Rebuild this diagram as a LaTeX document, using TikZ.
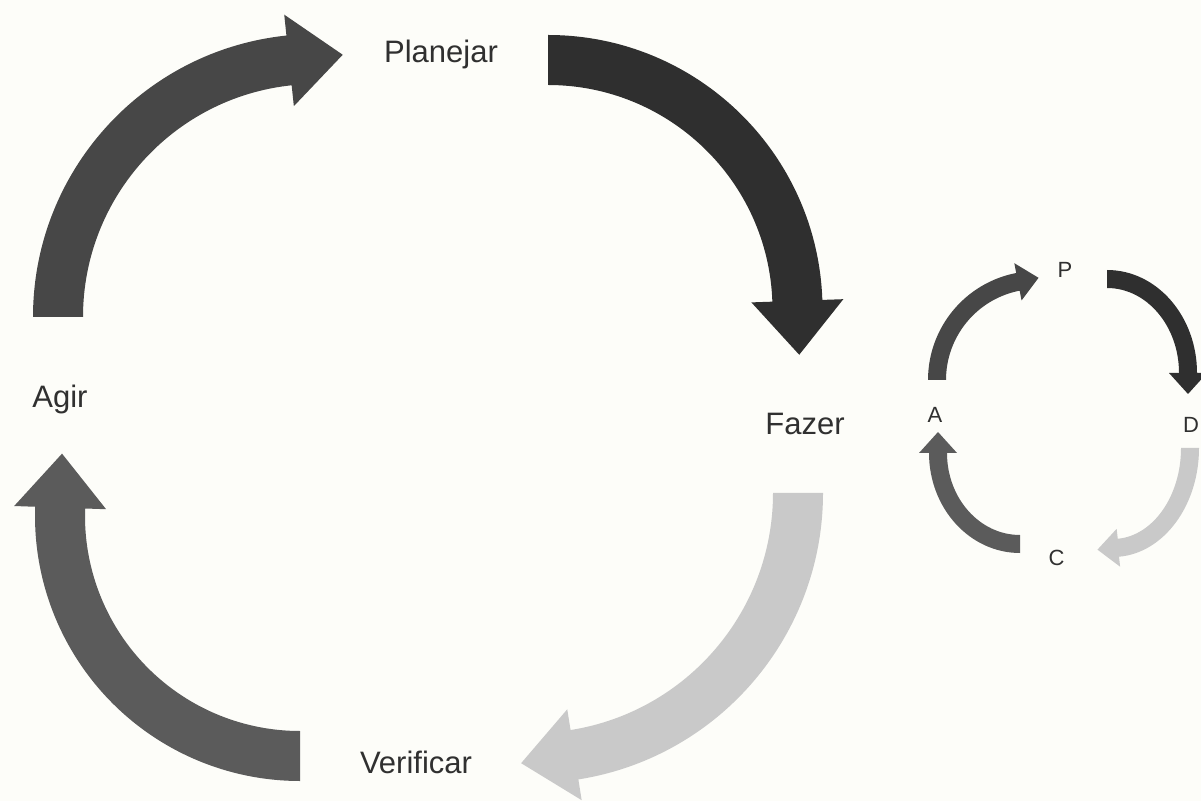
\documentclass[tikz,border=0pt]{standalone}
\usepackage{fontspec}
\setmainfont{Liberation Sans}

\definecolor{paper}{HTML}{FDFDF9}
\definecolor{inkAct}{HTML}{474747}
\definecolor{inkPlan}{HTML}{2F2F2F}
\definecolor{inkDo}{HTML}{C9C9C9}
\definecolor{inkCheck}{HTML}{5B5B5B}
\definecolor{labelink}{HTML}{303030}

% Thick clockwise arc with a triangular head.
% #1,#2 centre; #3,#4 radii; #5 start angle; #6 angle where the head begins; #7 fill colour.
% Band half-width, head half-width and head length come from \raBand, \raHead, \raLen.
\newcommand\ringarrow[7]{%
  \pgfmathsetmacro\raOrx{#3+\raBand}%
  \pgfmathsetmacro\raOry{#4+\raBand}%
  \pgfmathsetmacro\raIrx{#3-\raBand}%
  \pgfmathsetmacro\raIry{#4-\raBand}%
  \pgfmathsetmacro\raOx{#1+\raOrx*cos(#5)}%
  \pgfmathsetmacro\raOy{#2+\raOry*sin(#5)}%
  \pgfmathsetmacro\raIx{#1+\raIrx*cos(#6)}%
  \pgfmathsetmacro\raIy{#2+\raIry*sin(#6)}%
  \pgfmathsetmacro\raBx{#1+#3*cos(#6)}%
  \pgfmathsetmacro\raBy{#2+#4*sin(#6)}%
  \pgfmathsetmacro\raTx{#3*sin(#6)}%
  \pgfmathsetmacro\raTy{-#4*cos(#6)}%
  \pgfmathsetmacro\raTn{veclen(\raTx,\raTy)}%
  \pgfmathsetmacro\raNx{#4*cos(#6)}%
  \pgfmathsetmacro\raNy{#3*sin(#6)}%
  \pgfmathsetmacro\raNn{veclen(\raNx,\raNy)}%
  \fill[#7] (\raOx,\raOy)
      arc[start angle=#5, end angle=#6, x radius=\raOrx, y radius=\raOry]
    -- ({\raBx+\raHead*\raNx/\raNn},{\raBy+\raHead*\raNy/\raNn})
    -- ({\raBx+\raLen*\raTx/\raTn},{\raBy+\raLen*\raTy/\raTn})
    -- ({\raBx-\raHead*\raNx/\raNn},{\raBy-\raHead*\raNy/\raNn})
    -- (\raIx,\raIy)
      arc[start angle=#6, end angle=#5, x radius=\raIrx, y radius=\raIry]
    -- cycle;
}

\tikzset{
  biglabel/.style={font=\fontsize{31}{31}\selectfont, text=labelink, inner sep=0pt, anchor=base},
  smalllabel/.style={font=\fontsize{22}{22}\selectfont, text=labelink, inner sep=0pt, anchor=base},
}

\begin{document}
\begin{tikzpicture}[x=1pt,y=1pt]
  \useasboundingbox (0,0) rectangle (1201,801);
  \fill[paper] (0,0) rectangle (1201,801);
  \clip (0,0) rectangle (1201,801);

  % large cycle
  \def\raBand{25}\def\raHead{46}\def\raLen{54}
  \ringarrow{316}{484}{258}{258}{180}{96}{inkAct}
  \ringarrow{548}{491.5}{249.5}{249.5}{90}{2}{inkPlan}
  \ringarrow{533}{308}{265}{265}{0}{-81}{inkDo}
  \ringarrow{300}{285}{240}{240}{270}{178}{inkCheck}

  \node[biglabel] (planejar) at (441,738) {Planejar};
  \node[biglabel] (fazer) at (805,366) {Fazer};
  \node[biglabel] (verificar) at (416,28) {Verificar};
  \node[biglabel] (agir) at (60,393) {Agir};

  % small cycle
  \def\raBand{9}\def\raHead{19}\def\raLen{21}
  \ringarrow{1037}{421}{100}{100}{180}{101}{inkAct}
  \ringarrow{1107}{428}{81}{94}{90}{0}{inkPlan}
  \ringarrow{1113}{353}{77}{100}{0}{-86}{inkDo}
  \ringarrow{1020}{348}{82}{91}{270}{180}{inkCheck}

  \node[smalllabel] (p) at (1065,523) {P};
  \node[smalllabel] (d) at (1191,368) {D};
  \node[smalllabel] (c) at (1056.5,236) {C};
  \node[smalllabel] (a) at (935,378) {A};
\end{tikzpicture}
\end{document}
